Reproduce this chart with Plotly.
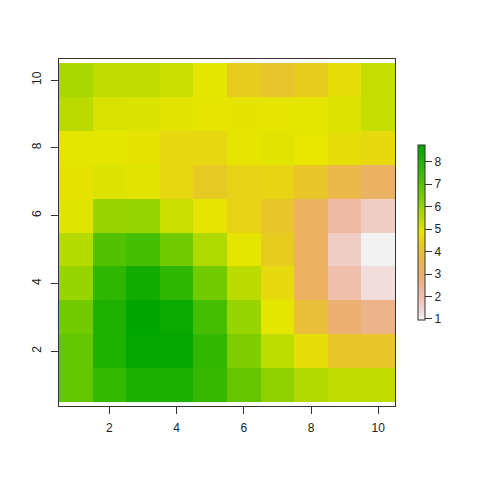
import colorsys
import plotly.graph_objects as go

x_vals = [1, 2, 3, 4, 5, 6, 7, 8, 9, 10]
y_vals = [1, 2, 3, 4, 5, 6, 7, 8, 9, 10]

# rows from y=1 (bottom) to y=10 (top)
row_y1 = [6.80, 7.63, 8.09, 8.09, 7.62, 6.78, 6.11, 5.61, 5.42, 5.42]
row_y2 = [6.80, 8.06, 8.67, 8.63, 7.70, 6.36, 5.44, 4.75, 4.15, 4.15]
row_y3 = [6.57, 8.06, 8.75, 8.48, 7.33, 5.97, 4.89, 3.93, 2.98, 2.59]
row_y4 = [5.97, 7.78, 8.35, 7.78, 6.57, 5.47, 4.63, 3.21, 2.03, 1.31]
row_y5 = [5.55, 7.10, 7.33, 6.57, 5.63, 4.89, 4.34, 3.21, 1.65, 0.95]
row_y6 = [4.97, 5.96, 5.97, 5.26, 4.85, 4.48, 4.15, 3.21, 2.20, 1.65]
row_y7 = [4.83, 5.01, 4.95, 4.59, 4.26, 4.48, 4.54, 4.18, 3.67, 3.21]
row_y8 = [4.89, 4.89, 4.83, 4.59, 4.59, 4.85, 4.95, 4.88, 4.75, 4.63]
row_y9 = [5.49, 5.06, 5.04, 4.95, 4.85, 4.83, 4.87, 4.89, 5.01, 5.34]
row_y10 = [5.72, 5.42, 5.42, 5.26, 4.89, 4.35, 4.12, 4.35, 4.75, 5.34]

x_ticks = [2, 4, 6, 8, 10]
y_ticks = [2, 4, 6, 8, 10]
cbar_ticks = [1, 2, 3, 4, 5, 6, 7, 8]

z = [row_y1, row_y2, row_y3, row_y4, row_y5, row_y6, row_y7, row_y8, row_y9, row_y10]


def terrain_colors(n):
    k = n // 2
    cols = []
    def seq(a, b, m):
        return [a + (b - a) * i / (m - 1) for i in range(m)] if m > 1 else [a]
    h1 = seq(4 / 12, 2 / 12, k); s1 = seq(1, 1, k); v1 = seq(0.65, 0.9, k)
    for h, s, v in zip(h1, s1, v1):
        cols.append(colorsys.hsv_to_rgb(h, s, v))
    m = n - k + 1
    h2 = seq(2 / 12, 0, m)[1:]; s2 = seq(1, 0, m)[1:]; v2 = seq(0.9, 0.95, m)[1:]
    for h, s, v in zip(h2, s2, v2):
        cols.append(colorsys.hsv_to_rgb(h, s, v))
    return ["rgb(%d,%d,%d)" % (round(r * 255), round(g * 255), round(b * 255)) for r, g, b in cols]


cols = list(reversed(terrain_colors(255)))
colorscale = [[i / (len(cols) - 1), c] for i, c in enumerate(cols)]

fig = go.Figure(go.Heatmap(
    x=x_vals, y=y_vals, z=z,
    colorscale=colorscale,
    zmin=0.95, zmax=8.75,
    colorbar=dict(
        thickness=7, lenmode="pixels", len=175,
        x=1.068, xanchor="left", xpad=0,
        y=0.5, yanchor="middle", ypad=0,
        outlinewidth=1, outlinecolor="#333333",
        tickvals=cbar_ticks, ticks="outside", ticklen=7,
        tickcolor="#333333",
        tickfont=dict(family="Liberation Sans, Arial", size=12, color="#222222"),
    ),
))

axis_common = dict(
    showgrid=False, zeroline=False, showline=True, mirror=True,
    linecolor="#333333", linewidth=1, ticks="outside", ticklen=7,
    tickcolor="#333333",
    tickfont=dict(family="Liberation Sans, Arial", size=12, color="#222222"),
)
fig.update_xaxes(range=[0.5, 10.5], tickvals=x_ticks, ticklabelstandoff=4, **axis_common)
fig.update_yaxes(range=[0.38, 10.62], tickvals=y_ticks, tickangle=-90,
                 ticklabelstandoff=5, **axis_common)

fig.update_layout(
    width=472, height=472,
    margin=dict(l=50.5, r=84.5, t=50.5, b=74, pad=0),
    plot_bgcolor="white", paper_bgcolor="white",
)

fig.write_html("out.html")
